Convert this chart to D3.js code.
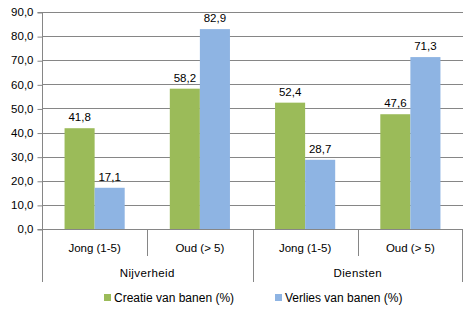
<!DOCTYPE html>
<html><head><meta charset="utf-8">
<script src="https://cdn.jsdelivr.net/npm/d3@7"></script>
<style>body{margin:0;background:#fff}svg{display:block}text{font-family:"Liberation Sans",Arial,sans-serif;font-size:11px;fill:#000}</style>
</head><body>
<script>
const groups = ["Nijverheid", "Diensten"];
const subcats = ["Jong (1-5)", "Oud (> 5)"];
const seriesNames = ["Creatie van banen (%)", "Verlies van banen (%)"];
const creatie = [41.8, 58.2, 52.4, 47.6];
const verlies = [17.1, 82.9, 28.7, 71.3];
const yTicks = [0, 10, 20, 30, 40, 50, 60, 70, 80, 90];
const colors = ["#9BBB59", "#8EB4E3"];

(function () {
const W = 470, H = 316;
const mLeft = 42, mRight = 463, mTop = 12, mBottom = 229;
const svg = d3.select("body").append("svg").attr("width", W).attr("height", H);

const cats = [];
groups.forEach(g => subcats.forEach(s => cats.push(g + "|" + s)));
const x = d3.scaleBand().domain(cats).range([mLeft, mRight]).paddingInner(0).paddingOuter(0);
const y = d3.scaleLinear().domain([0, 90]).range([mBottom, mTop]);
const bw = x.bandwidth() / 3.5;
const fmt = v => d3.format(".1f")(v).replace(".", ",");

// gridlines
svg.append("g").selectAll("line").data(yTicks.filter(t => t > 0)).join("line")
  .attr("x1", mLeft).attr("x2", mRight)
  .attr("y1", d => Math.round(y(d)) + 0.5).attr("y2", d => Math.round(y(d)) + 0.5)
  .attr("stroke", "#868686").attr("stroke-width", 1);

// y axis
const ya = svg.append("g").attr("transform", `translate(${mLeft + 0.5},0)`)
  .call(d3.axisLeft(y).tickValues(yTicks).tickFormat(fmt).tickSize(5).tickPadding(4));
ya.select(".domain").attr("stroke", "#868686").attr("d", `M-5,${Math.round(y(90)) + 0.5}H0V${Math.round(y(0)) + 0.5}H-5`);
ya.selectAll(".tick line").attr("stroke", "#868686").attr("transform", "translate(0,0.5)");
ya.selectAll("text").style("font-family", '"Liberation Sans",Arial,sans-serif').style("font-size", "11.5px").attr("fill", "#000");

// bars
const data = cats.map((c, i) => ({ c, vals: [creatie[i], verlies[i]] }));
const bars = svg.append("g");
data.forEach(d => {
  d.vals.forEach((v, k) => {
    const bx = x(d.c) + bw * 0.75 + k * bw;
    bars.append("rect").attr("x", bx).attr("width", bw)
      .attr("y", y(v)).attr("height", y(0) - y(v)).attr("fill", colors[k]);
    bars.append("text").attr("x", bx + bw / 2).attr("y", y(v) - 7)
      .attr("text-anchor", "middle").style("font-size", "11.5px").text(fmt(v));
  });
});

// x axis baseline
svg.append("line").attr("x1", mLeft).attr("x2", mRight)
  .attr("y1", Math.round(y(0)) + 0.5).attr("y2", Math.round(y(0)) + 0.5).attr("stroke", "#868686");

// category separators
const seps = svg.append("g");
cats.forEach((c, i) => {
  const xx = Math.round(x(c)) + 0.5;
  const outer = i % 2 === 0;
  seps.append("line").attr("x1", xx).attr("x2", xx).attr("y1", y(0)).attr("y2", outer ? 282 : 256).attr("stroke", "#868686");
  seps.append("text").attr("x", x(c) + x.bandwidth() / 2).attr("y", 252).attr("text-anchor", "middle").style("font-size", "11.5px").text(c.split("|")[1]);
});
seps.append("line").attr("x1", mRight - 0.5).attr("x2", mRight - 0.5).attr("y1", y(0)).attr("y2", 282).attr("stroke", "#868686");
groups.forEach((g) => {
  const x0 = x(g + "|" + subcats[0]), x1 = x(g + "|" + subcats[1]) + x.bandwidth();
  seps.append("text").attr("x", (x0 + x1) / 2).attr("y", 277).attr("text-anchor", "middle").style("font-size", "11.5px").style("letter-spacing", "0.4px").text(g);
});

// legend
const legX = [104, 275];
seriesNames.forEach((s, k) => {
  const lg = svg.append("g").attr("transform", `translate(${legX[k]},302)`);
  lg.append("rect").attr("x", 0).attr("y", -8).attr("width", 7).attr("height", 7).attr("fill", colors[k]);
  lg.append("text").attr("x", 10).attr("y", 0).style("font-size", "12px").text(s);
});
})();
</script>
</body></html>
